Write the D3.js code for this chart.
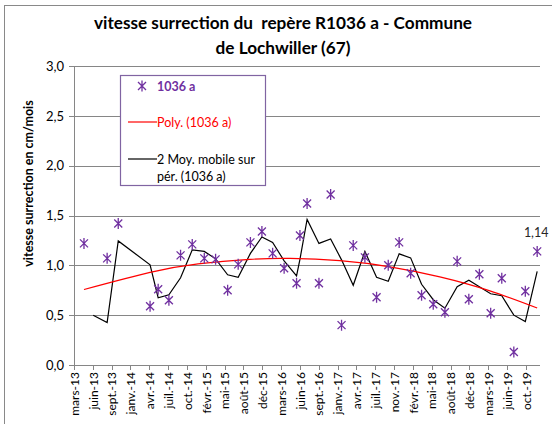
<!DOCTYPE html>
<html><head><meta charset="utf-8">
<script src="https://cdn.jsdelivr.net/npm/d3@7/dist/d3.min.js"></script>
<style>
body{margin:0;background:#fff}
svg{display:block}
text{font-family:Lato,"Open Sans",sans-serif}
</style>
</head><body>
<svg id="c" width="552" height="424"></svg>
<script>
// ---- data ----
const seriesName = "1036 a";
const dates = ["2013-05-02","2013-06-20","2013-09-02","2013-10-31","2014-04-18","2014-05-31","2014-07-27","2014-09-27",
  "2014-11-28","2015-01-31","2015-04-01","2015-06-04","2015-07-30","2015-10-03","2015-12-03","2016-01-29",
  "2016-03-30","2016-06-04","2016-06-22","2016-07-30","2016-10-01","2016-12-02","2017-01-29","2017-04-01",
  "2017-06-02","2017-08-03","2017-10-04","2017-12-01","2018-01-31","2018-03-30","2018-05-31","2018-08-01",
  "2018-10-05","2018-12-06","2019-01-31","2019-04-01","2019-05-30","2019-08-02","2019-10-02","2019-12-04"];
const values = [1.22,-0.22,1.07,1.42,0.59,0.76,0.65,1.10,
  1.21,1.07,1.06,0.75,1.01,1.23,1.34,1.12,
  0.97,0.82,1.30,1.62,0.82,1.71,0.40,1.20,
  1.08,0.68,1.00,1.23,0.92,0.70,0.61,0.53,
  1.04,0.66,0.91,0.52,0.87,0.13,0.74,1.14];
// polynomial trend line
const trendDates = ["2013-05-02","2014-04-18","2014-12-29","2015-09-30","2016-04-30","2017-01-20","2017-10-13","2018-07-05","2019-03-28","2019-12-04"];
const trendValues = [0.757,0.929,1.014,1.060,1.070,1.047,0.985,0.884,0.744,0.572];
const xTickLabels = ["mars-13","juin-13","sept.-13","janv.-14","avr.-14","juil.-14","oct.-14","févr.-15","mai-15",
  "août-15","déc-15","mars-16","juin-16","sept.-16","janv.-17","avr.-17","juil.-17","nov.-17","févr.-18",
  "mai-18","août-18","déc-18","mars-19","juin-19","oct.-19"];
const xAxisStart = "2013-03-10";
const xAxisEnd = "2019-12-19";
const xTickStepDays = 100;
const yTicks = [0,0.5,1,1.5,2,2.5,3];
const titleLines = ["vitesse surrection du  repère R1036 a - Commune","de Lochwiller (67)"];
const yTitle = "vitesse surrection en cm/mois";
const legendLabels = ["1036 a","Poly. (1036 a)",["2 Moy. mobile sur","pér. (1036 a)"]];
const lastLabel = "1,14";

// ---- drawing ----
const parse = d3.utcParse("%Y-%m-%d");
const svg = d3.select("#c");
const M = {l:74, r:540, t:66, b:365};
const x = d3.scaleUtc().domain([parse(xAxisStart), parse(xAxisEnd)]).range([M.l, M.r]);
const y = d3.scaleLinear().domain([0,3]).range([M.b, M.t]);
const fmt = v => d3.format(".1f")(v).replace(".", ",");
const purple = "#7030a0";

// outer frame (left/top visible)
svg.append("rect").attr("x",4.5).attr("y",5.5).attr("width",600).attr("height",500)
  .attr("fill","none").attr("stroke","#898989").attr("stroke-width",1);

// title
svg.append("g").selectAll("text").data(titleLines).join("text")
  .attr("x",283).attr("y",(d,i)=>29+i*25).attr("text-anchor","middle")
  .style("white-space","pre")
  .attr("font-size",17.2).attr("font-weight","bold").attr("fill","#000").text(d=>d);

// gridlines
svg.append("g").attr("transform",`translate(${M.l},0)`)
  .call(d3.axisLeft(y).tickValues(yTicks).tickSize(-(M.r-M.l)).tickFormat(""))
  .call(g=>g.select(".domain").remove())
  .call(g=>g.selectAll("line").attr("stroke","#868686").attr("shape-rendering","crispEdges"));

// y axis
const ya = svg.append("g").attr("transform",`translate(${M.l},0)`)
  .call(d3.axisLeft(y).tickValues(yTicks).tickSize(5).tickPadding(5).tickFormat(fmt));
ya.select(".domain").attr("stroke","#868686").attr("d",`M-0,${M.b+5}V${M.t}`).attr("shape-rendering","crispEdges");
ya.selectAll("line").attr("stroke","#868686").attr("shape-rendering","crispEdges");
ya.selectAll("text").attr("font-size",13).attr("fill","#000").attr("font-family","Lato");

// y title
svg.append("text").attr("transform",`translate(33,${(M.t+M.b)/2-32}) rotate(-90)`)
  .attr("text-anchor","middle").attr("font-size",12.5).attr("font-weight","bold").text(yTitle);

// x axis
const x0 = parse(xAxisStart);
const xTickVals = xTickLabels.map((_,i)=>d3.utcDay.offset(x0, i*xTickStepDays));
const xa = svg.append("g").attr("transform",`translate(0,${M.b})`)
  .call(d3.axisBottom(x).tickValues(xTickVals).tickSize(5).tickFormat((d,i)=>xTickLabels[i]));
xa.select(".domain").attr("stroke","#868686").attr("d",`M${M.l},0H${M.r}`).attr("shape-rendering","crispEdges");
xa.selectAll("line").attr("stroke","#868686").attr("shape-rendering","crispEdges");
xa.selectAll("text").attr("font-size",12).attr("fill","#000").attr("font-family","Lato")
  .attr("transform","rotate(-90)").attr("text-anchor","end").attr("dy","0.35em").attr("x",-7).attr("y",0);

// clip
svg.append("clipPath").attr("id","pa").append("rect")
  .attr("x",M.l).attr("y",M.t-8).attr("width",M.r-M.l+8).attr("height",M.b-M.t+8);

const pts = dates.map((d,i)=>({d:parse(d), v:values[i]}));
const ma = pts.slice(1).map((p,i)=>({d:p.d, v:(pts[i].v+p.v)/2}));
const trend = trendDates.map((d,i)=>({d:parse(d), v:trendValues[i]}));

const plot = svg.append("g").attr("clip-path","url(#pa)");
// moving average
plot.append("path").datum(ma).attr("fill","none").attr("stroke","#000").attr("stroke-width",1.2)
  .attr("d", d3.line().x(d=>x(d.d)).y(d=>y(d.v)));
// poly trend
plot.append("path").datum(trend).attr("fill","none").attr("stroke","#ff0000").attr("stroke-width",1.2)
  .attr("d", d3.line().curve(d3.curveNatural).x(d=>x(d.d)).y(d=>y(d.v)));

// markers
const star = "M-4,-4L4,4M-4,4L4,-4M0,-5.5V5.5";
plot.append("g").selectAll("path").data(pts.filter(p=>p.v>=0)).join("path")
  .attr("transform",d=>`translate(${x(d.d)},${y(d.v)})`).attr("d",star)
  .attr("stroke",purple).attr("stroke-width",1.3).attr("fill","none");

// last data label
const last = pts[pts.length-1];
svg.append("text").attr("x",x(last.d)-1).attr("y",y(last.v)-14).attr("text-anchor","middle")
  .attr("font-size",12.5).attr("fill","#262626").text(lastLabel);

// legend
const lg = svg.append("g");
lg.append("rect").attr("x",120.5).attr("y",75.5).attr("width",145).attr("height",110)
  .attr("fill","#fff").attr("stroke","#8064a2").attr("stroke-width",1.2);
lg.append("path").attr("transform","translate(142,86)").attr("d",star)
  .attr("stroke",purple).attr("stroke-width",1.3).attr("fill","none");
lg.append("text").attr("x",157).attr("y",90.5).attr("font-size",12.5).attr("font-weight","bold")
  .attr("fill",purple).text(legendLabels[0]);
lg.append("line").attr("x1",128).attr("x2",157).attr("y1",122).attr("y2",122).attr("stroke","#ff0000").attr("stroke-width",1.2);
lg.append("text").attr("x",157).attr("y",126.5).attr("font-size",12.5).attr("fill","#ff0000").text(legendLabels[1]);
lg.append("line").attr("x1",128).attr("x2",157).attr("y1",159).attr("y2",159).attr("stroke","#000").attr("stroke-width",1.2);
lg.append("text").attr("x",157).attr("y",163.5).attr("font-size",12.5).attr("fill","#000").text(legendLabels[2][0]);
lg.append("text").attr("x",157).attr("y",180.5).attr("font-size",12.5).attr("fill","#000").text(legendLabels[2][1]);
</script>
</body></html>
